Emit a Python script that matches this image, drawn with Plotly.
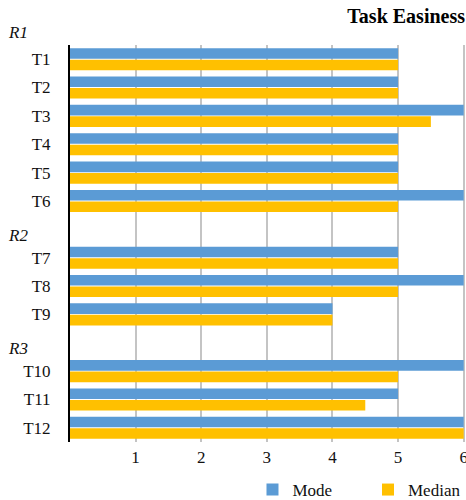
import plotly.graph_objects as go

tasks = ["T1", "T2", "T3", "T4", "T5", "T6", "T7", "T8", "T9", "T10", "T11", "T12"]
groups = ["R1", "R2", "R3"]
row_order = ["R1", "T1", "T2", "T3", "T4", "T5", "T6", "R2", "T7", "T8", "T9", "R3", "T10", "T11", "T12"]
mode_vals = [5, 5, 6, 5, 5, 6, 5, 6, 4, 6, 5, 6]
median_vals = [5, 5, 5.5, 5, 5, 5, 5, 5, 4, 5, 4.5, 6]
x_ticks = [1, 2, 3, 4, 5, 6]

FONT = "Liberation Serif, Times New Roman, serif"

fig = go.Figure()
fig.add_trace(go.Bar(y=tasks, x=mode_vals, orientation="h", name="Mode",
                     marker=dict(color="#5B9BD5", line=dict(width=0)), legend="legend"))
fig.add_trace(go.Bar(y=tasks, x=median_vals, orientation="h", name="Median",
                     marker=dict(color="#FFC000", line=dict(width=0)), legend="legend2"))

for g in groups:
    if g == "R1":
        fig.add_annotation(x=0, xref="paper", y=1, yref="paper", text="<i>%s</i>" % g,
                           showarrow=False, xanchor="left", yanchor="middle",
                           xshift=-64, yshift=13,
                           font=dict(family=FONT, size=17, color="#111"))
    else:
        fig.add_annotation(x=0, xref="paper", y=g, yref="y", text="<i>%s</i>" % g,
                           showarrow=False, xanchor="left", xshift=-64, yshift=-6,
                           font=dict(family=FONT, size=17, color="#111"))

leg_common = dict(orientation="h", yref="container", yanchor="middle", y=0.02,
                  xanchor="left", font=dict(family=FONT, size=17, color="#111"),
                  bgcolor="rgba(0,0,0,0)")

fig.update_layout(
    width=466, height=500,
    margin=dict(l=70, r=1, t=45, b=58),
    paper_bgcolor="white", plot_bgcolor="white",
    barmode="group", bargap=0.19, bargroupgap=0.08,
    font=dict(family=FONT, size=17, color="#111"),
    title=dict(text="<b>Task Easiness</b>", x=1, xanchor="right", xref="paper",
               yref="container", y=0.968, yanchor="middle",
               font=dict(family=FONT, size=20, color="#000")),
    showlegend=True,
    legend=dict(x=0.462, **leg_common),
    legend2=dict(x=0.755, **leg_common),
)
fig.update_xaxes(range=[0, 6.02], tickvals=x_ticks, showgrid=True, gridcolor="#C4C4C4",
                 gridwidth=1.5, zeroline=False, showline=False, automargin=False,
                 ticklabelstandoff=3, ticklabeloverflow="allow",
                 tickfont=dict(family=FONT, size=17, color="#111"), ticks="")
fig.update_yaxes(type="category", categoryorder="array", categoryarray=row_order,
                 range=[14.5, 0.5], tickvals=tasks, ticktext=tasks, showgrid=False,
                 showline=True, linecolor="#000", linewidth=2, ticks="",
                 ticklabelstandoff=14, automargin=False,
                 tickfont=dict(family=FONT, size=17, color="#111"))

fig.write_html("out.html", config={"displayModeBar": False},
               post_script="document.body.style.margin='0';document.body.style.overflow='hidden';")
